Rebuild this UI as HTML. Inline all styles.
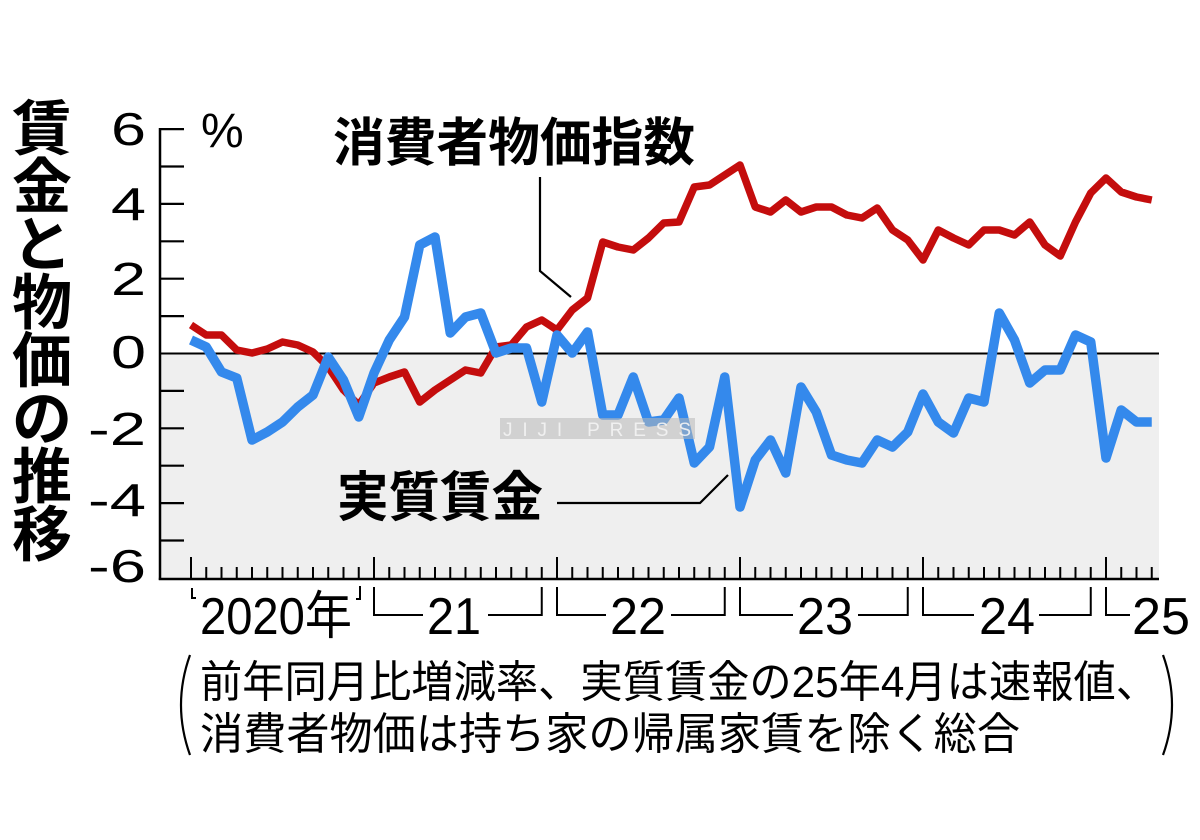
<!DOCTYPE html>
<html>
<head>
<meta charset="utf-8">
<style>
html,body{margin:0;padding:0;background:#fff;}
svg{display:block;}
text{font-family:"Liberation Sans","Noto Sans CJK JP",sans-serif;fill:#000;}
</style>
</head>
<body>
<svg width="1200" height="840" viewBox="0 0 1200 840" xmlns="http://www.w3.org/2000/svg">
  <rect x="0" y="0" width="1200" height="840" fill="#fff"/>

  <!-- Vertical title -->
  <g font-size="60" font-weight="bold" text-anchor="middle">
    <text x="42" y="150">賃</text>
    <text x="42" y="208">金</text>
    <text x="42" y="266">と</text>
    <text x="42" y="324">物</text>
    <text x="42" y="382">価</text>
    <text x="42" y="440">の</text>
    <text x="42" y="498">推</text>
    <text x="42" y="556">移</text>
  </g>

  <!-- gray negative region -->
  <rect x="160" y="353.5" width="999" height="225.5" fill="#efefef"/>

  <!-- zero line -->
  <line x1="160" y1="353.5" x2="1159" y2="353.5" stroke="#000" stroke-width="2"/>

  <!-- y axis -->
  <line x1="160" y1="128" x2="160" y2="580" stroke="#000" stroke-width="2.5"/>
  <path d="M160,129.1H184 M160,166.5H184 M160,203.9H184 M160,241.3H184 M160,278.7H184 M160,316.1H184 M160,390.9H184 M160,428.3H184 M160,465.7H184 M160,503.1H184 M160,540.5H184" stroke="#000" stroke-width="2.2" fill="none"/>

  <!-- y labels -->
  <g font-size="46" text-anchor="end">
    <text x="146" y="145" textLength="35" lengthAdjust="spacingAndGlyphs">6</text>
    <text x="146" y="220" textLength="35" lengthAdjust="spacingAndGlyphs">4</text>
    <text x="146" y="295" textLength="35" lengthAdjust="spacingAndGlyphs">2</text>
    <text x="146" y="368" textLength="35" lengthAdjust="spacingAndGlyphs">0</text>
    <text x="146" y="445" textLength="58" lengthAdjust="spacingAndGlyphs">-2</text>
    <text x="146" y="516" textLength="58" lengthAdjust="spacingAndGlyphs">-4</text>
    <text x="146" y="582" textLength="58" lengthAdjust="spacingAndGlyphs">-6</text>
  </g>
  <text x="201" y="147" font-size="48">%</text>

  <!-- x axis -->
  <line x1="158.8" y1="579" x2="1159" y2="579" stroke="#000" stroke-width="2.5"/>
  <path stroke="#000" stroke-width="2" fill="none" d="
    M191,579v-22 M206.25,579v-12 M221.5,579v-12 M236.75,579v-12 M252,579v-12 M267.25,579v-12 M282.5,579v-12 M297.75,579v-12 M313,579v-12 M328.25,579v-12 M343.5,579v-12 M358.75,579v-12
    M374,579v-22 M389.25,579v-12 M404.5,579v-12 M419.75,579v-12 M435,579v-12 M450.25,579v-12 M465.5,579v-12 M480.75,579v-12 M496,579v-12 M511.25,579v-12 M526.5,579v-12 M541.75,579v-12
    M557,579v-22 M572.25,579v-12 M587.5,579v-12 M602.75,579v-12 M618,579v-12 M633.25,579v-12 M648.5,579v-12 M663.75,579v-12 M679,579v-12 M694.25,579v-12 M709.5,579v-12 M724.75,579v-12
    M740,579v-22 M755.25,579v-12 M770.5,579v-12 M785.75,579v-12 M801,579v-12 M816.25,579v-12 M831.5,579v-12 M846.75,579v-12 M862,579v-12 M877.25,579v-12 M892.5,579v-12 M907.75,579v-12
    M923,579v-22 M938.25,579v-12 M953.5,579v-12 M968.75,579v-12 M984,579v-12 M999.25,579v-12 M1014.5,579v-12 M1029.75,579v-12 M1045,579v-12 M1060.25,579v-12 M1075.5,579v-12 M1090.75,579v-12
    M1106,579v-22 M1121.25,579v-12 M1136.5,579v-12 M1151.75,579v-12"/>

  <!-- year brackets -->
  <path stroke="#000" stroke-width="2" fill="none" d="
    M192,588V598H196
    M360,586V599H356
    M374,587V615H423 M488,615H541.75V587
    M557,587V615H606 M671,615H724.75V587
    M740,587V615H793 M858,615H907.75V587
    M923,587V615H974 M1039,615H1090.75V587
    M1106,587V615H1130"/>

  <!-- year labels -->
  <g font-size="52">
    <text x="200" y="634" textLength="152" lengthAdjust="spacingAndGlyphs">2020年</text>
    <text x="454" y="634" text-anchor="middle" textLength="54" lengthAdjust="spacingAndGlyphs">21</text>
    <text x="638" y="634" text-anchor="middle" textLength="56" lengthAdjust="spacingAndGlyphs">22</text>
    <text x="825" y="634" text-anchor="middle" textLength="56" lengthAdjust="spacingAndGlyphs">23</text>
    <text x="1007" y="634" text-anchor="middle" textLength="56" lengthAdjust="spacingAndGlyphs">24</text>
    <text x="1132" y="634" textLength="58" lengthAdjust="spacingAndGlyphs">25</text>
  </g>

  <!-- CPI (red) -->
  <polyline fill="none" stroke="#c40d0d" stroke-width="7.5" stroke-linejoin="round" points="191,325 206.25,335 221.5,335 236.75,350 252,353 267.25,349 282.5,342 297.75,345 313,352 328.25,367 343.5,390 358.75,405 374,383 389.25,377 404.5,372 419.75,402 435,390 450.25,380 465.5,370 480.75,373 496,347 511.25,345 526.5,327 541.75,320 557,330 572.25,310 587.5,298 602.75,242 618,247 633.25,250 648.5,238 663.75,223 679,222 694.25,187 709.5,185 724.75,175 740,165 755.25,207 770.5,212 785.75,200 801,212 816.25,207 831.5,207 846.75,215 862,218 877.25,208 892.5,230 907.75,240 923,260 938.25,230 953.5,238 968.75,245 984,230 999.25,230 1014.5,235 1029.75,222 1045,245 1060.25,256 1075.5,222 1090.75,193 1106,178 1121.25,192 1136.5,197 1151.75,200"/>

  <!-- Real wages (blue) -->
  <polyline fill="none" stroke="#3489ec" stroke-width="9.5" stroke-linejoin="round" points="191,340 206.25,347 221.5,372 236.75,378 252,440 267.25,432 282.5,422 297.75,407 313,395 328.25,357 343.5,380 358.75,417 374,373 389.25,340 404.5,317 419.75,245 435,237 450.25,333 465.5,317 480.75,313 496,353 511.25,348 526.5,348 541.75,402 557,335 572.25,353 587.5,332 602.75,415 618,415 633.25,377 648.5,422 663.75,420 679,398 694.25,463 709.5,447 724.75,377 740,507 755.25,460 770.5,440 785.75,473 801,387 816.25,412 831.5,455 846.75,460 862,463 877.25,440 892.5,447 907.75,432 923,394 938.25,422 953.5,433 968.75,398 984,402 999.25,313 1014.5,340 1029.75,383 1045,370 1060.25,370 1075.5,335 1090.75,342 1106,458 1121.25,410 1136.5,422 1151.75,422"/>

  <!-- watermark -->
  <rect x="500" y="418" width="195" height="21" fill="#b8b8b8" opacity="0.55"/>
  <text x="503" y="436" font-family="Liberation Serif, serif" font-size="19" fill="#f4f4f4" style="fill:#f4f4f4" textLength="188" lengthAdjust="spacing" opacity="0.9">JIJI PRESS</text>

  <!-- CPI label and leader -->
  <text x="333" y="161" font-size="52" font-weight="bold" textLength="362" lengthAdjust="spacingAndGlyphs">消費者物価指数</text>
  <path d="M540,177V271L571,297" stroke="#000" stroke-width="2.2" fill="none"/>

  <!-- Real wage label and leader -->
  <text x="337" y="516" font-size="54" font-weight="bold" textLength="206" lengthAdjust="spacingAndGlyphs">実質賃金</text>
  <path d="M557,503H700L728,475" stroke="#000" stroke-width="2.2" fill="none"/>

  <!-- note -->
  <path d="M190,655Q172,705 190,755" stroke="#000" stroke-width="2.2" fill="none"/>
  <path d="M1163,655Q1181,705 1163,755" stroke="#000" stroke-width="2.2" fill="none"/>
  <g font-size="44">
    <text x="200" y="697" textLength="958" lengthAdjust="spacingAndGlyphs">前年同月比増減率、実質賃金の25年4月は速報値、</text>
    <text x="200" y="749" textLength="820" lengthAdjust="spacingAndGlyphs">消費者物価は持ち家の帰属家賃を除く総合</text>
  </g>
</svg>
</body>
</html>
